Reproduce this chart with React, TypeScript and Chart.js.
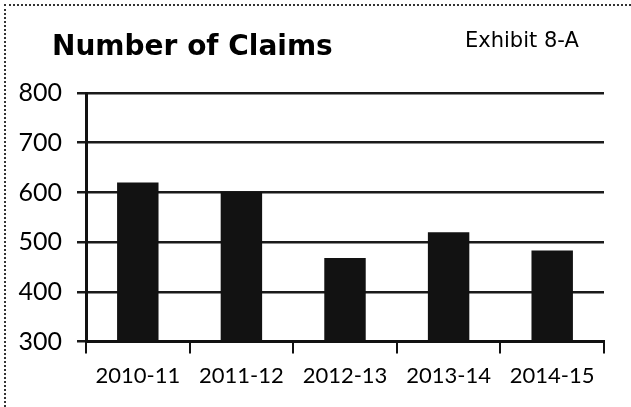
import React, { useEffect, useRef } from "react";
import { Chart, registerables } from "chart.js";

Chart.register(...registerables);

const categories: string[] = ["2010-11", "2011-12", "2012-13", "2013-14", "2014-15"];
const claims: number[] = [620, 601, 468, 520, 483];
const yMin = 300;
const yMax = 800;
const yStep = 100;
const titleText = "Number of Claims";
const exhibitText = "Exhibit 8-A";

const textPlugin = {
  id: "headerTexts",
  afterDraw(chart: any) {
    const ctx = chart.ctx;
    ctx.save();
    ctx.fillStyle = "#000";
    ctx.textBaseline = "alphabetic";
    ctx.textAlign = "left";
    ctx.font = "bold 28px 'DejaVu Sans'";
    ctx.fillText(titleText, 52, 55);
    ctx.font = "21px 'DejaVu Sans'";
    ctx.fillText(exhibitText, 465, 47);
    ctx.restore();
  },
};

export default function App() {
  const ref = useRef<HTMLCanvasElement | null>(null);
  useEffect(() => {
    if (!ref.current) return;
    const chart = new Chart(ref.current, {
      type: "bar",
      data: {
        labels: categories,
        datasets: [
          {
            data: claims,
            backgroundColor: "#121212",
            borderWidth: 0,
            categoryPercentage: 1,
            barPercentage: 0.4,
          },
        ],
      },
      options: {
        responsive: false,
        animation: false,
        events: [],
        layout: { padding: { top: 93, right: 27, bottom: 9, left: 0 } },
        plugins: {
          legend: { display: false },
          title: { display: false },
          tooltip: { enabled: false },
        },
        scales: {
          x: {
            grid: {
              display: true,
              offset: true,
              drawOnChartArea: false,
              drawTicks: true,
              tickLength: 12,
              lineWidth: 2,
              color: "#111",
            },
            border: { display: true, width: 3, color: "#111" },
            ticks: {
              color: "#000",
              padding: 9,
              font: { family: "Lato", size: 22 },
            },
          },
          y: {
            min: yMin,
            max: yMax,
            afterFit: (scale: any) => {
              scale.width = 86;
            },
            grid: {
              display: true,
              drawTicks: true,
              tickLength: 9,
              lineWidth: 2.5,
              color: "#1a1a1a",
            },
            border: { display: true, width: 3, color: "#111" },
            ticks: {
              stepSize: yStep,
              color: "#000",
              padding: 15,
              font: { family: "Lato", size: 25 },
            },
          },
        },
      },
      plugins: [textPlugin],
    });
    return () => chart.destroy();
  }, []);
  return (
    <div
      style={{
        position: "fixed",
        left: 0,
        top: 0,
        width: 631,
        height: 407,
        background: "#fff",
      }}
    >
      <div
        style={{
          position: "absolute",
          left: 4,
          top: 4,
          width: 627,
          height: 403,
          borderLeft: "2px dotted #333",
          borderTop: "2px dotted #333",
          boxSizing: "border-box",
        }}
      />
      <canvas ref={ref} width={631} height={407} style={{ position: "absolute", left: 0, top: 0 }} />
    </div>
  );
}
